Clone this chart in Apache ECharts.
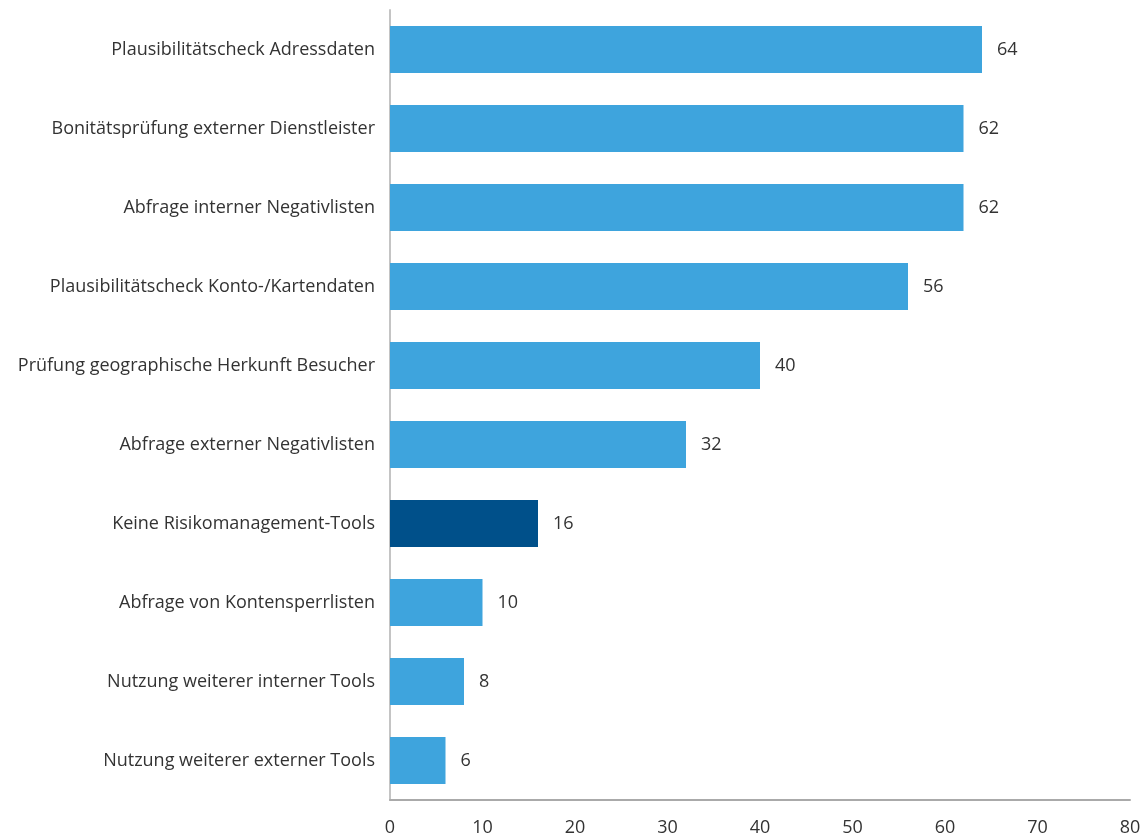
<!DOCTYPE html>
<html>
<head>
<meta charset="utf-8">
<script src="https://cdn.jsdelivr.net/npm/echarts@6/dist/echarts.min.js"></script>
<style>
html, body { margin: 0; padding: 0; background: #fff; }
#main { width: 1145px; height: 837px; }
</style>
</head>
<body>
<div id="main"></div>
<script>
// top to bottom as in the picture
var categories = [
    'Plausibilitätscheck Adressdaten',
    'Bonitätsprüfung externer Dienstleister',
    'Abfrage interner Negativlisten',
    'Plausibilitätscheck Konto-/Kartendaten',
    'Prüfung geographische Herkunft Besucher',
    'Abfrage externer Negativlisten',
    'Keine Risikomanagement-Tools',
    'Abfrage von Kontensperrlisten',
    'Nutzung weiterer interner Tools',
    'Nutzung weiterer externer Tools'
];
var values = [64, 62, 62, 56, 40, 32, 16, 10, 8, 6];
var highlight = 'Keine Risikomanagement-Tools';
var xTicks = [0, 10, 20, 30, 40, 50, 60, 70, 80];

var myChart = echarts.init(document.getElementById('main'));

var barData = values.map(function (v, i) {
    return {
        value: v,
        itemStyle: { color: categories[i] === highlight ? '#00508a' : '#3ea4dd' }
    };
});

var option = {
    animation: false,
    textStyle: { fontFamily: '"Open Sans", "Noto Sans", sans-serif' },
    grid: { left: 390, right: 15, top: 10, bottom: 37 },
    xAxis: {
        type: 'value',
        min: xTicks[0],
        max: xTicks[xTicks.length - 1],
        interval: 10,
        splitLine: { show: false },
        axisTick: { show: false },
        axisLine: { show: true, lineStyle: { color: '#aaaaaa', width: 2 } },
        axisLabel: { color: '#333', fontSize: 18, margin: 19 }
    },
    yAxis: {
        type: 'category',
        inverse: true,
        data: categories,
        axisTick: { show: false },
        axisLine: { show: true, lineStyle: { color: '#c4c4c4', width: 2 } },
        axisLabel: { color: '#333', fontSize: 18, margin: 15 }
    },
    series: [{
        type: 'bar',
        data: barData,
        barWidth: 47,
        label: {
            show: true,
            position: 'right',
            distance: 15,
            color: '#333',
            fontSize: 18
        }
    }]
};
myChart.setOption(option);
</script>
</body>
</html>
